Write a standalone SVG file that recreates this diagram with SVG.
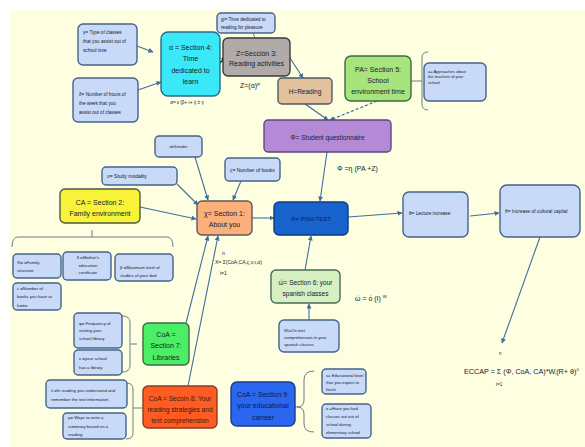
<svg xmlns="http://www.w3.org/2000/svg" width="585" height="447" viewBox="0 0 585 447">
<defs>
<marker id="ah" markerWidth="5" markerHeight="5" refX="4.5" refY="2.5" orient="auto" markerUnits="userSpaceOnUse"><path d="M0,0 L5,2.5 L0,5 z" fill="#3e6f9e"/></marker>
<marker id="ahd" markerWidth="5" markerHeight="5" refX="4.5" refY="2.5" orient="auto" markerUnits="userSpaceOnUse"><path d="M0,0 L5,2.5 L0,5 z" fill="#2a2a2a"/></marker>
</defs>
<style>
.t{font-family:"Liberation Sans",Arial,sans-serif;fill:#142030}
.m{text-anchor:middle}
.lb{fill:#c8daf7;stroke:#44648c;stroke-width:1.4}
.c{stroke:#3e6f9e;stroke-width:1.1;fill:none;marker-end:url(#ah)}
.br{stroke:#6d7d8d;stroke-width:1;fill:none}
.s4{font-size:4.3px}.s5{font-size:4.7px}.s7{font-size:7px}
</style>
<rect x="0" y="0" width="585" height="447" fill="#ffffff"/>
<rect x="10" y="10" width="575" height="437" fill="#fefee0"/>

<g id="connectors">
<path class="c" d="M137,46 L153,52"/>
<path class="c" d="M138,90 L161,82"/>
<path d="M220,63 L225.5,57" stroke="#2a2a2a" stroke-width="1.5" fill="none" marker-end="url(#ahd)"/>
<path class="br" d="M253,33 L255,38" stroke="#3e6f9e"/>
<path class="c" d="M290,58 L303,78"/>
<path class="c" d="M305,104 L328,120"/>
<path class="c" d="M377,101 L330,120" stroke-dasharray="3,2"/>
<path class="c" d="M327,152 L320,201"/>
<path class="c" d="M195,157 L208,200"/>
<path class="c" d="M177,184 L198,205"/>
<path class="c" d="M241,181 L233,200"/>
<path class="c" d="M140,207 L196,219"/>
<path class="c" d="M252,218 L274,218"/>
<path class="c" d="M186,323 L208,236"/>
<path class="c" d="M188,386 L218,236"/>
<path class="c" d="M348,217 L402,213"/>
<path class="c" d="M470,216 L499,213"/>
<path class="c" d="M540,237 L502,343"/>
<path class="c" d="M305,270 L311,236"/>
<path class="c" d="M309,320 L309,304"/>
<path class="br" d="M411,81 L422,81"/>
<path class="br" d="M428,52 Q422,52 422,58 L422,104 Q422,110 428,110"/>
<path class="br" d="M92,230 L92,237 M12,247 Q12,237 18,237 L167,237 Q173,237 173,247"/>
<path class="br" d="M122,316 Q130,316 130,322 L130,366 Q130,372 122,372 M130,344 L137,344"/>
<path class="br" d="M126,383 Q133,383 133,389 L133,433 Q133,439 126,439 M133,408 L142,408"/>
<path class="br" d="M314,371 Q304,371 304,380 L304,400 Q304,407 297,407 Q304,407 304,414 L304,424 Q304,432 314,432 M295,407 L297,407"/>
</g>

<g id="gamma"><rect class="lb" x="78" y="24" width="59" height="41" rx="5"/>
<text class="t s5" x="83"><tspan x="83" y="34">γ= Type of classes</tspan><tspan x="83" y="43">that you assist out of</tspan><tspan x="83" y="52">school time</tspan></text></g>

<g id="delta"><rect class="lb" x="73" y="78" width="65" height="44" rx="5"/>
<text class="t s5"><tspan x="79" y="96">δ= Number of hours of</tspan><tspan x="79" y="105">the week that you</tspan><tspan x="79" y="114">assist out of classes</tspan></text></g>

<g id="alpha"><rect x="161" y="32" width="59" height="64" rx="7" fill="#3be8f8" stroke="#2a6a8a" stroke-width="1.4"/>
<text class="t m s7"><tspan x="190.5" y="49.5">α = Section 4:</tspan><tspan x="190.5" y="61">Time</tspan><tspan x="190.5" y="72.5">dedicated to</tspan><tspan x="190.5" y="84">learn</tspan></text>
<text class="t m s5" x="187" y="104">α= ε (β+ ι+ ι) ± γ</text></g>

<g id="gi"><rect class="lb" x="217" y="13" width="58" height="20" rx="4"/>
<text class="t s5"><tspan x="221" y="20.5">gi= Time dedicated to</tspan><tspan x="221" y="29">reading for pleasure</tspan></text></g>

<g id="Z"><rect x="223" y="38" width="67" height="38" rx="5" fill="#b0aba8" stroke="#3a3a3a" stroke-width="1.4"/>
<text class="t m s7"><tspan x="256.5" y="55.5">Z=Sección 3:</tspan><tspan x="256.5" y="66">Reading activities</tspan></text>
<text class="t" font-size="7" x="240" y="88">Z=(α)<tspan font-size="4" dy="-3">gi</tspan></text></g>

<g id="H"><rect x="278" y="78" width="54" height="26" rx="4" fill="#e2c29c" stroke="#4a5a6a" stroke-width="1.4"/>
<text class="t m" font-size="6.5" x="305" y="93.5">H=Reading</text></g>

<g id="PA"><rect x="345" y="56" width="66" height="45" rx="6" fill="#a8e47c" stroke="#3d6a40" stroke-width="1.4"/>
<text class="t m s7"><tspan x="378" y="71.5">PA= Section 5:</tspan><tspan x="378" y="82.5">School</tspan><tspan x="378" y="93.5">environment time</tspan></text></g>

<g id="a"><rect class="lb" x="424" y="63" width="62" height="38" rx="5"/>
<text class="t" font-size="4"><tspan x="428" y="72.5">a= Approaches about</tspan><tspan x="428" y="78">the teachers of your</tspan><tspan x="428" y="83.5">school</tspan></text></g>

<g id="phi"><rect x="264" y="120" width="127" height="32" rx="4" fill="#b48ad6" stroke="#5a4a7a" stroke-width="1.4"/>
<text class="t m" font-size="6.5" x="327.5" y="140">Φ= Student questionnaire</text>
<text class="t" font-size="7" x="337" y="171">Φ =η (PA +Z)</text></g>

<g id="gender"><rect class="lb" x="155" y="136" width="47" height="21" rx="4"/>
<text class="t m s4" x="178.5" y="148">ι=Gender</text></g>

<g id="upsilon"><rect class="lb" x="102" y="167" width="75" height="18" rx="4"/>
<text class="t" font-size="5" x="107" y="178">υ= Study modality</text></g>

<g id="books"><rect class="lb" x="225" y="158" width="55" height="23" rx="4"/>
<text class="t" font-size="5" x="230" y="171.5">ς= Number of books</text></g>

<g id="CA"><rect x="60" y="189" width="80" height="34" rx="5" fill="#f8f238" stroke="#4a5a40" stroke-width="1.4"/>
<text class="t m s7"><tspan x="100" y="204.5">CA = Section 2:</tspan><tspan x="100" y="215.5">Family environment</tspan></text></g>

<g id="chi"><rect x="197" y="201" width="55" height="34" rx="5" fill="#fbb07c" stroke="#5a5a5a" stroke-width="1.4"/>
<text class="t m s7"><tspan x="224.5" y="215.5">χ= Section 1:</tspan><tspan x="224.5" y="226.5">About you</tspan></text></g>

<g id="R"><rect x="274" y="202" width="74" height="33" rx="5" fill="#1862cc" stroke="#0a3a8a" stroke-width="1.4"/>
<text class="m" font-family="Liberation Sans,Arial,sans-serif" font-size="6" fill="#0a2560" x="311" y="220.5">R= PISA TEST</text></g>

<g id="lecture"><rect class="lb" x="403" y="192" width="65" height="45" rx="6"/>
<text class="t s5" x="409" y="215">θ= Lecture increase</text></g>

<g id="capital"><rect class="lb" x="500" y="185" width="80" height="52" rx="7"/>
<text class="t" font-size="4.8" x="505" y="212.5">θ= Increase of cultural capital</text></g>

<g id="famstruct"><rect class="lb" x="13" y="254" width="48" height="24" rx="4"/>
<text class="t s4"><tspan x="17" y="263.5">Φ= =Family</tspan><tspan x="17" y="271.5">structure</tspan></text></g>

<g id="mother"><rect class="lb" x="63" y="252" width="48" height="28" rx="4"/>
<text class="t m s4"><tspan x="88" y="258.5">δ   =Mother's</tspan><tspan x="88" y="266.5">education</tspan><tspan x="88" y="273.5">certificate</tspan></text></g>

<g id="dad"><rect class="lb" x="115" y="254" width="58" height="27" rx="4"/>
<text class="t s4"><tspan x="120" y="268.5">β =Maximum level of</tspan><tspan x="120" y="277">studies of your dad</tspan></text></g>

<g id="cbooks"><rect class="lb" x="13" y="283" width="48" height="27" rx="4"/>
<text class="t s4"><tspan x="17" y="289.5">c =Number of</tspan><tspan x="17" y="298">books you have at</tspan><tspan x="17" y="306.5">home</tspan></text></g>

<g id="xformula" class="t" font-size="5">
<text x="222" y="255">n</text>
<text x="215" y="264">X= Σ(CoA,CA,ς,υ,ι,α)</text>
<text x="220" y="274.5">i=1</text></g>

<g id="omega"><rect x="271" y="270" width="69" height="33" rx="5" fill="#d6f0c2" stroke="#4a6a5a" stroke-width="1.4"/>
<text class="t m" font-size="6.5"><tspan x="305.5" y="284.5">ώ= Section 6: your</tspan><tspan x="305.5" y="295.5">spanish classes</tspan></text>
<text class="t" font-size="7" x="355" y="300.5">ώ = ό (Ι) <tspan font-size="4" dy="-3">W</tspan></text></g>

<g id="Wi"><rect class="lb" x="279" y="320" width="60" height="32" rx="5"/>
<text class="t" font-size="4.2"><tspan x="284" y="331.5">Wi=On text</tspan><tspan x="284" y="338.5">comprehension in your</tspan><tspan x="284" y="345.5">spanish classes</tspan></text></g>

<g id="freq"><rect class="lb" x="74" y="313" width="48" height="35" rx="4"/>
<text class="t s4"><tspan x="79" y="324.5">φ= Frequency of</tspan><tspan x="79" y="332">visiting your</tspan><tspan x="79" y="339.5">school library</tspan></text></g>

<g id="kappa"><rect class="lb" x="74" y="350" width="48" height="25" rx="4"/>
<text class="t s4"><tspan x="79" y="359.5">κ =your school</tspan><tspan x="79" y="368.5">has a library</tspan></text></g>

<g id="CoA7"><rect x="143" y="323" width="46" height="42" rx="5" fill="#4cee66" stroke="#3a6a4a" stroke-width="1.4"/>
<text class="t m s7"><tspan x="166" y="336.5">CoA =</tspan><tspan x="166" y="348">Section 7:</tspan><tspan x="166" y="359.5">Libraries</tspan></text></g>

<g id="lambda"><rect class="lb" x="46" y="380" width="81" height="28" rx="4"/>
<text class="t s4"><tspan x="51" y="391.5">λ =In reading you understand and</tspan><tspan x="51" y="400.5">remember the text information</tspan></text></g>

<g id="mu"><rect class="lb" x="63" y="413" width="63" height="26" rx="4"/>
<text class="t s4"><tspan x="68" y="418.5">μ= Ways to write a</tspan><tspan x="68" y="427.5">summary based on a</tspan><tspan x="68" y="435.5">reading</tspan></text></g>

<g id="CoA8"><rect x="143" y="386" width="74" height="42" rx="5" fill="#fe5c22" stroke="#8a3a2a" stroke-width="1.4"/>
<text class="m" font-family="Liberation Sans,Arial,sans-serif" font-size="6.6" fill="#3a1a10"><tspan x="180" y="400.5">CoA = Secoin 8: Your</tspan><tspan x="180" y="411.5">reading strategies and</tspan><tspan x="180" y="422.5">text comprehension</tspan></text></g>

<g id="CoA9"><rect x="231" y="382" width="64" height="44" rx="6" fill="#2a66ee" stroke="#1a3a8a" stroke-width="1.4"/>
<text class="m" font-family="Liberation Sans,Arial,sans-serif" font-size="7" fill="#0a1a50"><tspan x="263" y="396.5">CoA = Section 9:</tspan><tspan x="263" y="408">your educational</tspan><tspan x="263" y="419.5">carreer</tspan></text></g>

<g id="nu"><rect class="lb" x="322" y="369" width="44" height="25" rx="4"/>
<text class="t" font-size="4.2"><tspan x="326" y="376.5">ν= Educational level</tspan><tspan x="326" y="384">that you expect to</tspan><tspan x="326" y="391">finish</tspan></text></g>

<g id="omicron"><rect class="lb" x="322" y="404" width="49" height="34" rx="4"/>
<text class="t" font-size="4.2"><tspan x="326" y="409.5">ο =Have you had</tspan><tspan x="326" y="417.5">classes out out of</tspan><tspan x="326" y="425.5">school during</tspan><tspan x="326" y="433.5">elementary school</tspan></text></g>

<g id="eccap" class="t">
<text font-size="4.5" x="499" y="355">n</text>
<text font-size="7.2" x="464" y="373.5">ECCAP = Σ (Φ, CoA, CA)*W<tspan font-size="4" dy="1.5">i</tspan><tspan dy="-1.5">(R+ θ)</tspan><tspan font-size="4" dy="-3">θ</tspan></text>
<text font-size="4.5" x="496" y="386">i=1</text></g>
</svg>
